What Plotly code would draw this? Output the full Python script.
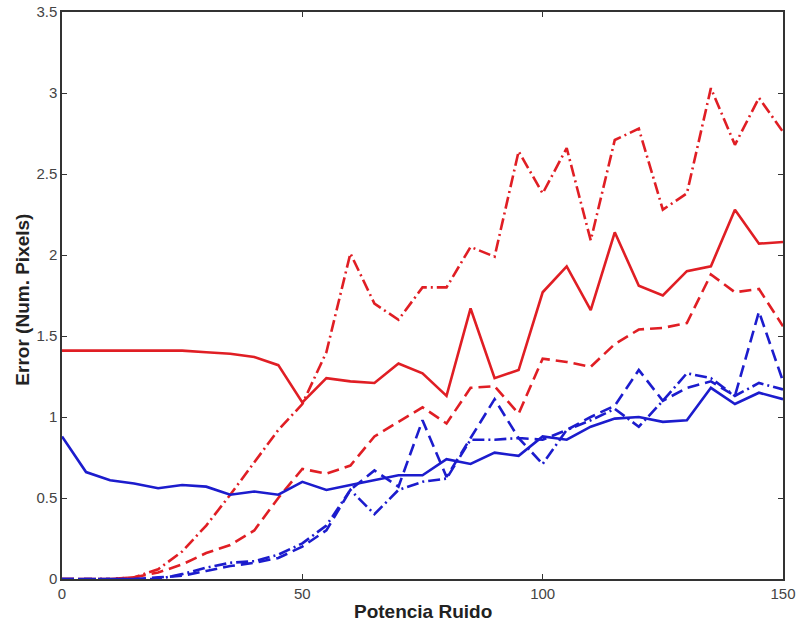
import plotly.graph_objects as go

x = list(range(0, 151, 5))

red_solid = [1.41, 1.41, 1.41, 1.41, 1.41, 1.41, 1.40, 1.39, 1.37, 1.32, 1.09,
             1.24, 1.22, 1.21, 1.33, 1.27, 1.13, 1.67, 1.24, 1.29, 1.77,
             1.93, 1.66, 2.14, 1.81, 1.75, 1.90, 1.93, 2.28, 2.07, 2.08]
red_dash = [0, 0, 0, 0.01, 0.04, 0.09, 0.16, 0.21, 0.30, 0.50, 0.68,
            0.65, 0.70, 0.88, 0.97, 1.06, 0.96, 1.18, 1.19, 1.02, 1.36,
            1.34, 1.31, 1.45, 1.54, 1.55, 1.58, 1.88, 1.77, 1.79, 1.56]
red_dashdot = [0, 0, 0, 0.01, 0.06, 0.17, 0.33, 0.52, 0.72, 0.92, 1.08,
               1.40, 2.01, 1.70, 1.60, 1.80, 1.80, 2.05, 1.99, 2.64, 2.38,
               2.66, 2.09, 2.71, 2.78, 2.28, 2.38, 3.03, 2.68, 2.97, 2.76]
blue_solid = [0.88, 0.66, 0.61, 0.59, 0.56, 0.58, 0.57, 0.52, 0.54, 0.52, 0.60,
              0.55, 0.58, 0.61, 0.64, 0.64, 0.74, 0.71, 0.78, 0.76, 0.88,
              0.86, 0.94, 0.99, 1.00, 0.97, 0.98, 1.18, 1.08, 1.15, 1.11]
blue_dash = [0, 0, 0, 0, 0.01, 0.02, 0.05, 0.08, 0.10, 0.13, 0.20,
             0.30, 0.55, 0.67, 0.57, 0.98, 0.63, 0.87, 1.11, 0.87, 0.86,
             0.92, 1.00, 1.07, 1.29, 1.10, 1.18, 1.22, 1.13, 1.65, 1.22]
blue_dashdot = [0, 0, 0, 0, 0, 0.03, 0.07, 0.10, 0.11, 0.15, 0.22,
                0.33, 0.55, 0.40, 0.55, 0.60, 0.62, 0.86, 0.86, 0.87, 0.71,
                0.92, 0.98, 1.05, 0.94, 1.10, 1.27, 1.24, 1.13, 1.21, 1.17]

x_ticks = [0, 50, 100, 150]
y_ticks = [0, 0.5, 1, 1.5, 2, 2.5, 3, 3.5]
y_tick_text = ["0", "0.5", "1", "1.5", "2", "2.5", "3", "3.5"]

RED = "rgb(224,30,36)"
BLUE = "rgb(28,28,205)"
DASH = "12px,6px"
DASHDOT = "12px,4px,2px,4px"

series = [
    (red_dashdot, RED, DASHDOT),
    (red_dash, RED, DASH),
    (red_solid, RED, "solid"),
    (blue_dashdot, BLUE, DASHDOT),
    (blue_dash, BLUE, DASH),
    (blue_solid, BLUE, "solid"),
]

fig = go.Figure()
for ys, col, dash in series:
    fig.add_trace(go.Scatter(x=x, y=ys, mode="lines",
                             line=dict(color=col, width=2.6, dash=dash),
                             showlegend=False, hoverinfo="skip"))

FONT = "Liberation Sans, Arial, sans-serif"
axis_common = dict(showgrid=False, zeroline=False, showline=True,
                   linecolor="#333", linewidth=1.5, mirror="ticks",
                   ticks="inside", ticklen=5, tickcolor="#333",
                   automargin=False, ticklabeloverflow="allow",
                   tickfont=dict(family=FONT, size=15, color="#444"))

fig.update_layout(
    width=797, height=625,
    margin=dict(l=62, r=14, t=12, b=46),
    paper_bgcolor="white", plot_bgcolor="white",
    xaxis=dict(range=[0, 150], tickvals=x_ticks, **axis_common),
    yaxis=dict(range=[0, 3.5], tickvals=y_ticks, ticktext=y_tick_text,
               **axis_common),
    annotations=[
        dict(text="<b>Potencia Ruido</b>", x=0.5, y=-0.058, xref="paper", yref="paper",
             xanchor="center", yanchor="middle", showarrow=False,
             font=dict(family=FONT, size=19, color="#222")),
        dict(text="<b>Error (Num. Pixels)</b>", x=-0.056, y=0.492, xref="paper", yref="paper",
             xanchor="center", yanchor="middle", showarrow=False, textangle=-90,
             font=dict(family=FONT, size=19, color="#222")),
    ],
)

# remove the default 8px page margin so the figure fills the window exactly
fig.write_html("out.html", config={"displayModeBar": False},
               post_script="document.body.style.margin='0';document.body.style.overflow='hidden';")
